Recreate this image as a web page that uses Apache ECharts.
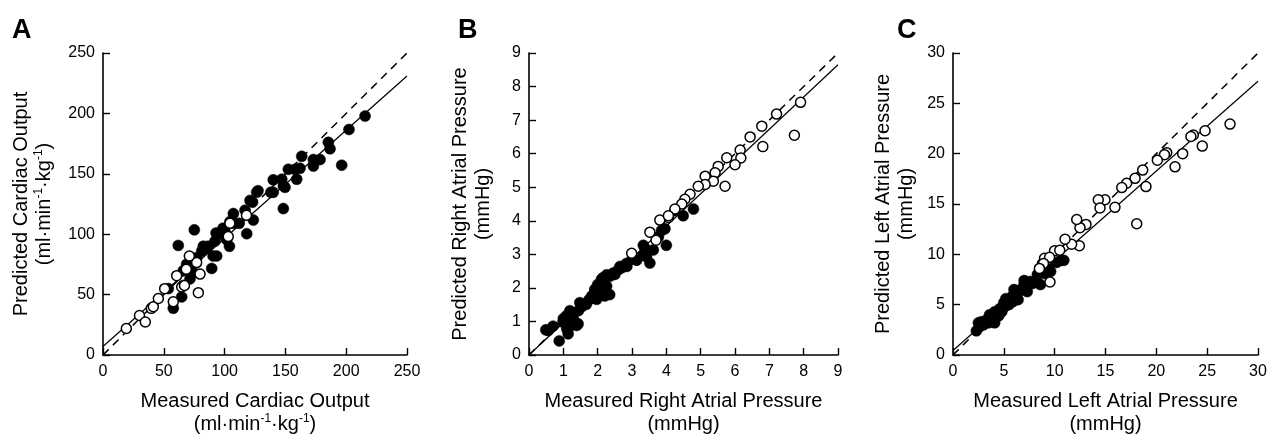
<!DOCTYPE html>
<html>
<head>
<meta charset="utf-8">
<script src="https://cdn.jsdelivr.net/npm/echarts@6/dist/echarts.min.js"></script>
<style>
html,body{margin:0;padding:0;background:#fff;}
#chart{width:1274px;height:441px;}
</style>
</head>
<body>
<div id="chart"></div>
<script>
// ---------- DATA ----------
const panelLetters = ['A', 'B', 'C'];

const xTitles = ['Measured Cardiac Output', 'Measured Right Atrial Pressure', 'Measured Left Atrial Pressure'];
const yTitles = ['Predicted Cardiac Output', 'Predicted Right Atrial Pressure', 'Predicted Left Atrial Pressure'];
const unitCO = '(ml·min{s|-1}·kg{s|-1})';
const unitP = '(mmHg)';

const axisMax = [250, 9, 30];
const axisStep = [50, 1, 5];

// Panel A: cardiac output
const aFilled = [[215.5,197.8],[202.3,186.7],[185.3,176.1],[186.7,170.7],[196.3,157.1],[163.4,164.5],[173,161.8],[178.5,161.8],[173,156.4],[157.9,153.7],[162,154.5],[152.4,153.7],[159.3,145.5],[147,145.5],[149.7,138.8],[148.3,121.2],[140,145],[138,134.7],[140,134.7],[126.4,134.7],[127.5,136],[120.9,128],[123,126.5],[116.8,119.9],[118.2,100.4],[123.6,111.7],[107.2,117.1],[104.4,110.4],[108,109],[112,109],[100.3,102.3],[94.8,99.6],[92.1,94.2],[93,101],[104,90],[86.6,90.1],[82.5,90.1],[81.2,86],[77,80.6],[72.9,79.2],[68.8,75.2],[66,69.8],[74.3,68.4],[71.5,63],[66,57.6],[93.5,82],[101.7,95.5],[75.1,103.6],[61.9,90.7],[89.4,71.7],[57.8,38.7],[64.7,48.1],[53.7,55],[148.3,140],[90.5,82],[85,88.6],[98.7,105]];
const aOpen = [[19.2,21.9],[30,32.7],[34.8,27.3],[39.7,38.6],[41.4,40],[45.5,46.8],[50.7,54.9],[57.8,44],[64.7,56.3],[60.6,65.7],[78.4,51.6],[79.8,67],[77,76.5],[68.5,71],[71,82],[104.4,109],[103,98],[118,115.7],[67,57.6]];
const aIdentity = [[0,0],[250,250]];
const aFit = [[0,7],[250,231]];

// Panel B: right atrial pressure
const bFilled = [[0.49,0.75],[0.56,0.73],[0.7,0.86],[0.88,0.42],[1.14,0.63],[0.99,0.98],[1.1,0.78],[1.0,1.08],[1.09,1.17],[1.19,1.32],[1.29,1.08],[1.28,1.03],[1.43,0.93],[1.39,0.88],[1.24,0.88],[1.19,1.17],[1.44,1.32],[1.48,1.56],[1.58,1.51],[1.67,1.51],[1.83,1.76],[1.87,1.71],[1.92,1.9],[1.92,1.96],[1.97,1.66],[2.06,1.76],[2.11,2.25],[2.12,2.2],[2.16,1.95],[2.21,1.76],[2.26,2.05],[2.26,2.39],[2.35,1.8],[2.36,2.35],[2.45,2.44],[2.6,2.54],[2.65,2.64],[2.84,2.73],[2.85,2.64],[3.13,2.83],[3.14,2.83],[3.33,2.98],[3.33,3.27],[3.38,3.18],[3.42,2.93],[3.52,2.74],[3.62,3.13],[3.77,3.52],[3.86,3.71],[3.96,3.76],[4.0,3.27],[4.25,4.3],[4.49,4.15],[4.79,4.35],[2.0,2.1],[2.15,2.3],[1.75,1.65],[1.55,1.45],[2.5,2.4],[2.7,2.6],[3.0,2.85]];
const bOpen = [[7.91,7.53],[7.73,6.55],[7.21,7.18],[6.78,6.82],[6.81,6.21],[6.44,6.5],[6.15,6.11],[6.17,5.87],[6.0,5.67],[5.76,5.88],[5.71,5.03],[5.51,5.62],[5.42,5.43],[5.37,5.18],[5.13,5.33],[5.13,5.08],[4.93,5.03],[4.69,4.79],[4.54,4.64],[4.45,4.5],[4.25,4.35],[4.06,4.1],[3.81,4.02],[3.52,3.66],[3.7,3.42],[2.99,3.03],[4.06,4.15]];
const bIdentity = [[0,0],[9,9]];
const bFit = [[0,0],[9,8.65]];

// Panel C: left atrial pressure
const cFilled = [[2.3,2.4],[2.5,3.2],[2.8,3.3],[2.6,2.8],[3.0,3.0],[3.3,3.5],[3.5,3.2],[3.8,3.8],[4.1,3.2],[4.1,4.3],[4.3,4.15],[4.5,3.9],[4.6,4.6],[4.8,4.3],[5.1,4.8],[5.0,5.2],[5.4,5.5],[5.5,5.0],[5.8,5.8],[5.9,5.3],[6.1,6.3],[6.3,6.1],[6.4,5.5],[6.6,6.4],[6.8,6.6],[7.0,7.0],[7.3,6.9],[7.3,6.3],[7.6,7.3],[7.8,7.1],[8.2,7.4],[8.3,8.0],[8.6,7.0],[8.7,8.3],[9.0,8.1],[9.2,8.9],[9.4,8.6],[9.6,8.3],[10.2,9.2],[10.6,9.4],[10.9,9.4],[4.0,3.7],[3.6,4.0],[2.9,3.0],[5.2,5.6],[6.0,6.5],[7.0,7.4]];
const cOpen = [[27.25,22.94],[24.79,22.28],[24.52,20.75],[23.64,21.86],[23.4,21.7],[22.59,20],[21.84,18.69],[21.02,20.1],[20.8,19.9],[20.1,19.35],[18.98,16.73],[18.66,18.37],[18.07,13.04],[17.91,17.55],[17.08,17.06],[16.6,16.63],[15.93,14.67],[14.95,15.42],[14.29,15.42],[14.46,14.6],[13.08,12.97],[12.49,12.65],[12.17,13.46],[12.43,10.85],[11.67,11.0],[11.02,11.5],[9.99,10.36],[10.5,10.4],[9.54,7.25],[9.21,9.38],[8.79,9.05],[9.0,9.6],[9.5,9.7],[8.9,9.1],[8.5,8.6]];
const cIdentity = [[0,0],[30,30]];
const cFit = [[0,0.45],[30,27.2]];

// ---------- LAYOUT / STYLE ----------
const FONT = '"Liberation Sans", Arial, Helvetica, sans-serif';
const grids = [
  {left: 103, top: 53, width: 304, height: 308},
  {left: 529, top: 53, width: 309, height: 307},
  {left: 953, top: 53, width: 305, height: 306}
];
const yNameGap = [47, 34, 35];
const letterX = [12, 458, 897];

const filledSets = [aFilled, bFilled, cFilled];
const openSets = [aOpen, bOpen, cOpen];
const identitySets = [aIdentity, bIdentity, cIdentity];
const fitSets = [aFit, bFit, cFit];
const units = [unitCO, unitP, unitP];

const richStyle = {
  s: {fontSize: 12, fontFamily: FONT, color: '#000', verticalAlign: 'top', lineHeight: 23}
};

const xAxes = [], yAxes = [], series = [], graphics = [];
for (let i = 0; i < 3; i++) {
  const common = {
    type: 'value', gridIndex: i, min: 0, max: axisMax[i], interval: axisStep[i],
    splitLine: {show: false},
    axisLine: {show: true, lineStyle: {color: '#000', width: 1.6}},
    axisTick: {show: true, inside: true, length: 7, lineStyle: {color: '#000', width: 1.4}},
    axisLabel: {color: '#000', fontSize: 16, fontFamily: FONT},
    nameLocation: 'middle',
    nameTextStyle: {color: '#000', fontSize: 20, fontFamily: FONT, lineHeight: 23, rich: richStyle}
  };
  xAxes.push(Object.assign({}, common, {
    name: xTitles[i] + '\n' + units[i],
    nameGap: 35,
    axisLabel: Object.assign({}, common.axisLabel, {margin: 9})
  }));
  yAxes.push(Object.assign({}, common, {
    name: yTitles[i] + '\n' + units[i],
    nameGap: yNameGap[i],
    axisLabel: Object.assign({}, common.axisLabel, {margin: 8})
  }));
  series.push({
    type: 'line', xAxisIndex: i, yAxisIndex: i, data: identitySets[i],
    symbol: 'none', silent: true, z: 1,
    lineStyle: {color: '#000', width: 1.5, type: [8, 6]}
  });
  series.push({
    type: 'line', xAxisIndex: i, yAxisIndex: i, data: fitSets[i],
    symbol: 'none', silent: true, z: 1,
    lineStyle: {color: '#000', width: 1.2, type: 'solid'}
  });
  series.push({
    type: 'scatter', xAxisIndex: i, yAxisIndex: i, data: filledSets[i],
    symbol: 'circle', symbolSize: 11, z: 2,
    itemStyle: {color: '#000', borderColor: '#000', borderWidth: 0.5, opacity: 1}
  });
  series.push({
    type: 'scatter', xAxisIndex: i, yAxisIndex: i, data: openSets[i],
    symbol: 'circle', symbolSize: 10, z: 3,
    itemStyle: {color: '#fff', borderColor: '#000', borderWidth: 1.5, opacity: 1}
  });
  graphics.push({
    type: 'text', left: letterX[i], top: 17,
    style: {text: panelLetters[i], fill: '#000', font: 'bold 27px ' + FONT}
  });
}

const chart = echarts.init(document.getElementById('chart'), null, {renderer: 'canvas'});
chart.setOption({
  animation: false,
  backgroundColor: '#fff',
  grid: grids,
  xAxis: xAxes,
  yAxis: yAxes,
  series: series,
  graphic: graphics
});
</script>
</body>
</html>
